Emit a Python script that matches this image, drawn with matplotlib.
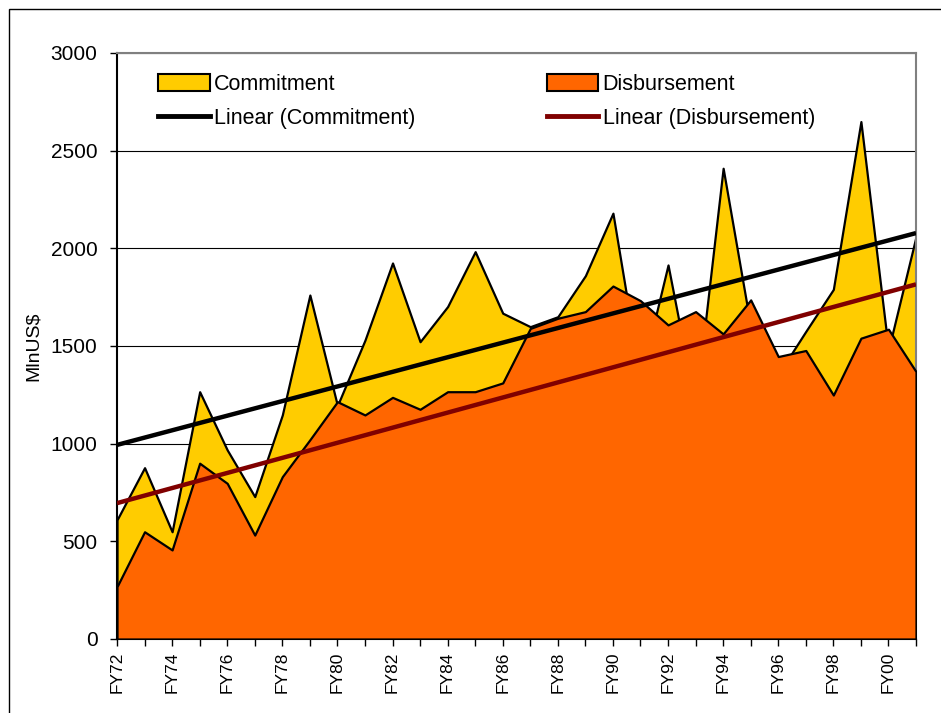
import numpy as np
import matplotlib
matplotlib.use("Agg")
import matplotlib.pyplot as plt
from matplotlib.patches import Patch, Rectangle
from matplotlib.lines import Line2D

plt.rcParams['font.family'] = ['Liberation Sans', 'DejaVu Sans']

# fiscal years FY72 .. FY01
years = ['FY72', 'FY73', 'FY74', 'FY75', 'FY76', 'FY77', 'FY78', 'FY79', 'FY80', 'FY81',
         'FY82', 'FY83', 'FY84', 'FY85', 'FY86', 'FY87', 'FY88', 'FY89', 'FY90', 'FY91',
         'FY92', 'FY93', 'FY94', 'FY95', 'FY96', 'FY97', 'FY98', 'FY99', 'FY00', 'FY01']

commitment = [610, 877, 549, 1266, 968, 729, 1147, 1761, 1195, 1530,
              1925, 1522, 1702, 1983, 1668, 1599, 1650, 1860, 2180, 1330,
              1915, 1190, 2410, 1600, 1355, 1575, 1790, 2649, 1480, 2060]

disbursement = [268, 549, 456, 900, 797, 532, 831, 1020, 1215, 1147,
                1237, 1176, 1266, 1266, 1311, 1590, 1642, 1676, 1807, 1732,
                1608, 1676, 1562, 1736, 1446, 1477, 1249, 1540, 1586, 1369]

x = np.arange(len(years))

# linear trend lines like Excel's
c_fit = np.polyfit(x, commitment, 1)
d_fit = np.polyfit(x, disbursement, 1)

fig = plt.figure(figsize=(9.41, 7.13), dpi=100)
ax = fig.add_axes([117/941, 1 - 639/713, (916-117)/941, (639-53)/713])

yellow = '#FFCC00'
orange = '#FF6600'
darkred = '#800000'

ax.fill_between(x, 0, commitment, facecolor=yellow, edgecolor='black', linewidth=1.6, zorder=2)
ax.fill_between(x, 0, disbursement, facecolor=orange, edgecolor='black', linewidth=1.6, zorder=3)
ax.plot(x, np.polyval(c_fit, x), color='black', linewidth=3.2, zorder=4, solid_capstyle='butt')
ax.plot(x, np.polyval(d_fit, x), color=darkred, linewidth=3.2, zorder=4, solid_capstyle='butt')

ax.set_xlim(0, len(years) - 1)
ax.set_ylim(0, 3000)
ax.set_yticks(range(0, 3001, 500))
ax.yaxis.grid(True, color='black', linewidth=0.8, zorder=0)
ax.set_axisbelow(True)

ax.set_xticks(x)
ax.set_xticklabels([y if i % 2 == 0 else '' for i, y in enumerate(years)], rotation=90, fontsize=12.5)
ax.tick_params(axis='y', labelsize=15, length=5, width=1, pad=9)
ax.tick_params(axis='x', length=5, width=1, pad=4)
ax.set_ylabel('MlnUS$', fontsize=14, labelpad=6)

for side in ['left', 'bottom']:
    ax.spines[side].set_color('black')
    ax.spines[side].set_linewidth(1.5)
for side in ['top', 'right']:
    ax.spines[side].set_color('#808080')
    ax.spines[side].set_linewidth(1.5)

handles = [Patch(facecolor=yellow, edgecolor='black', linewidth=1.5),
           Line2D([], [], color='black', linewidth=3.5),
           Patch(facecolor=orange, edgecolor='black', linewidth=1.5),
           Line2D([], [], color=darkred, linewidth=3.5)]
labels = ['Commitment', 'Linear (Commitment)', 'Disbursement', 'Linear (Disbursement)']
ax.legend(handles, labels, ncol=2, loc='upper left', frameon=False,
          bbox_to_anchor=((158-117)/799, (639-74)/586), borderaxespad=0, borderpad=0,
          fontsize=15.5, handlelength=2.4, handleheight=0.8, handletextpad=0.2,
          columnspacing=6.1, labelspacing=0.6)

# outer chart border (only left and top edges fall inside the picture)
fig.add_artist(Rectangle((9/941, -0.1), 1.2, 1.1 - 9/713, transform=fig.transFigure,
                         fill=False, edgecolor='black', linewidth=1))

fig.savefig('out.png', dpi=100)
